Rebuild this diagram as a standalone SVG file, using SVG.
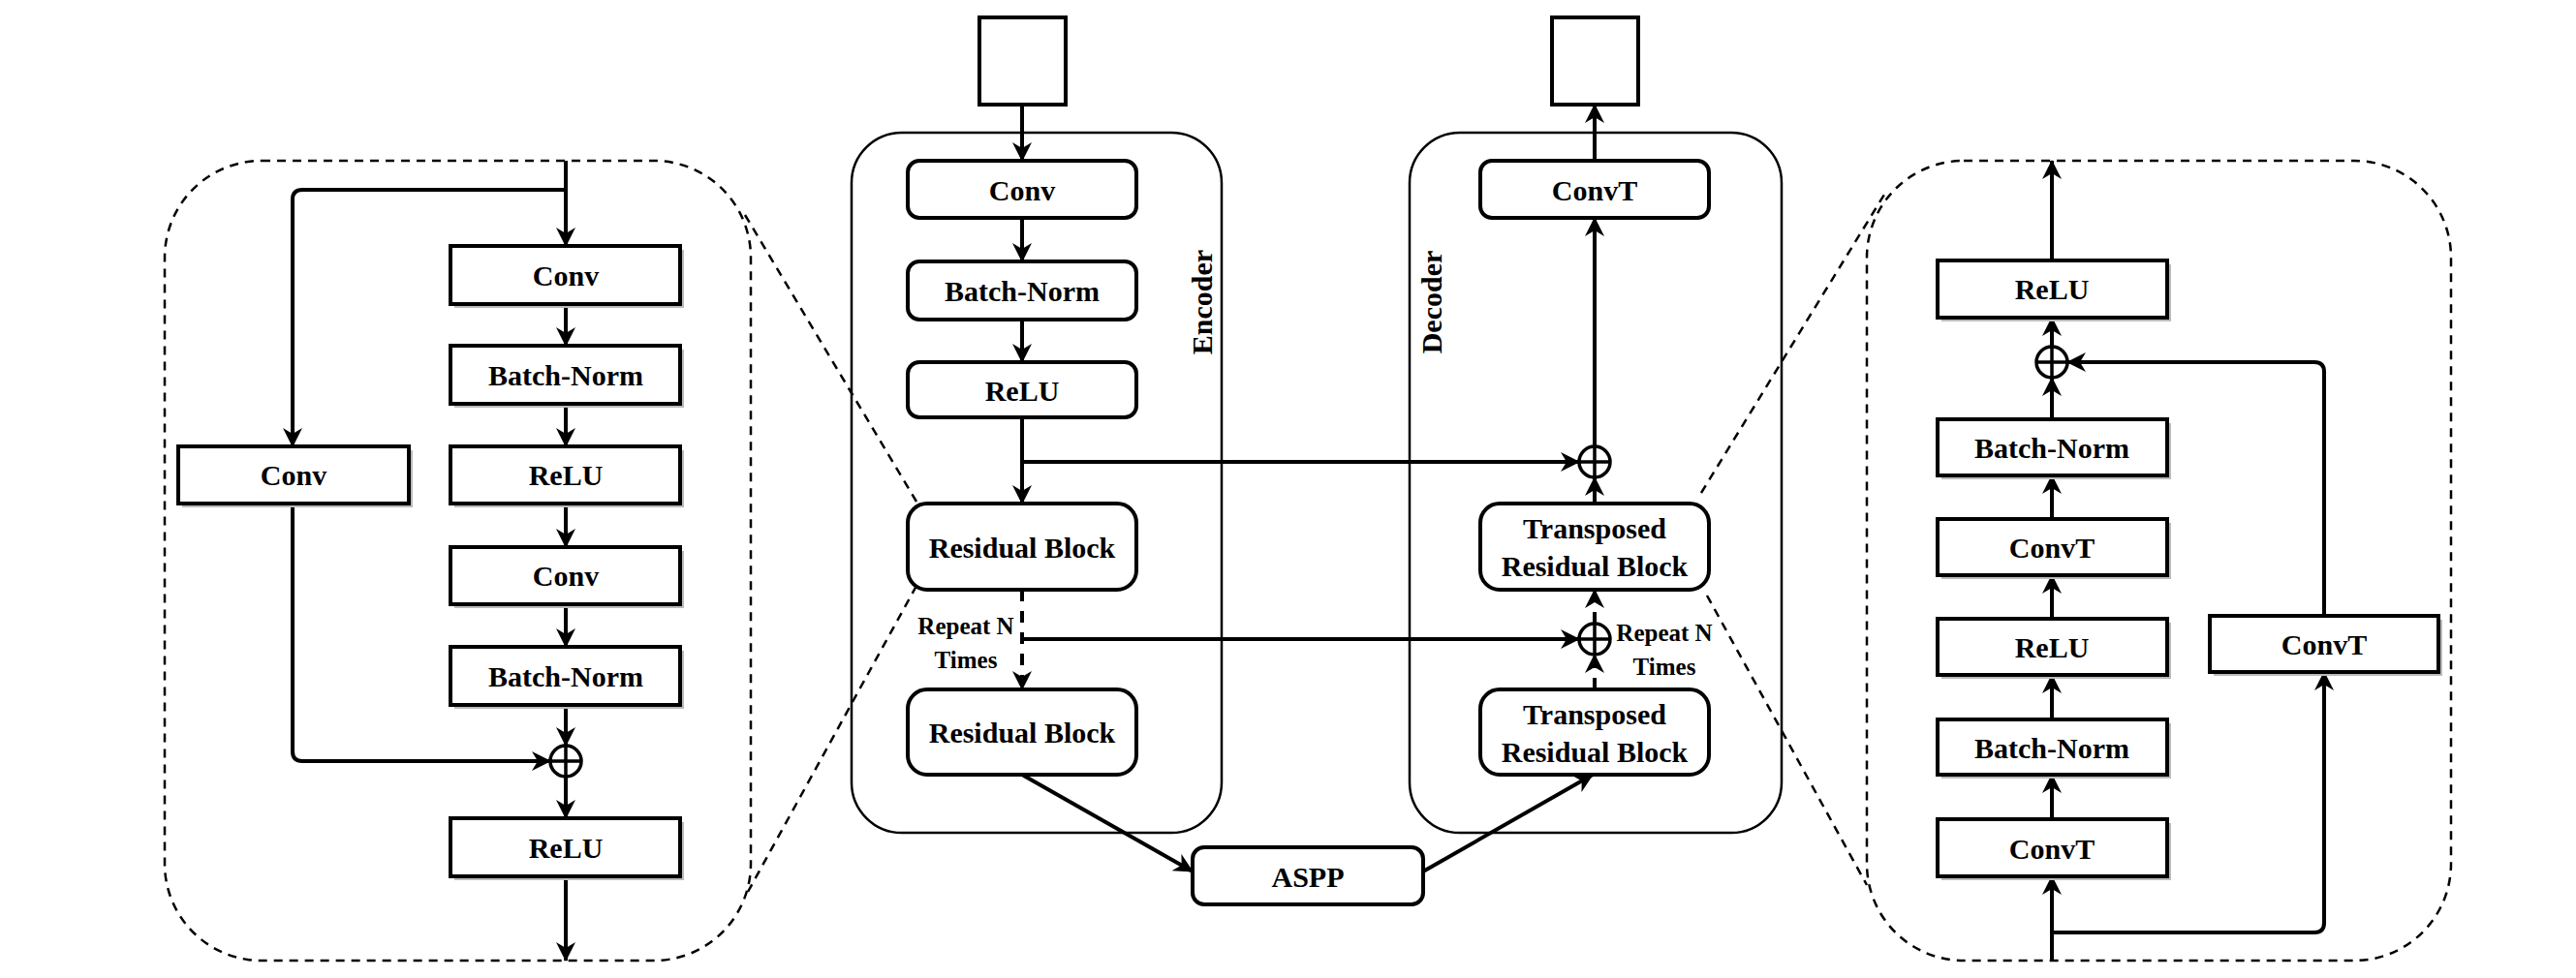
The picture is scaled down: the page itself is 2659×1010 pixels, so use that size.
<svg xmlns="http://www.w3.org/2000/svg" width="2659" height="1010" viewBox="0 0 2659 1010">
<defs>
<marker id="ah" viewBox="0 0 10 10" refX="9" refY="5" markerWidth="6" markerHeight="6" markerUnits="userSpaceOnUse" orient="auto"><path d="M0,0 L10,5 L0,10 L3,5 Z" fill="#000"/></marker>
<marker id="a" viewBox="0 0 20 20" refX="19" refY="10" markerWidth="20" markerHeight="20" markerUnits="userSpaceOnUse" orient="auto"><path d="M0,0 L20,10 L0,20 L6,10 Z" fill="#000"/></marker>
</defs>
<style>
text{font-family:"Liberation Serif","Times New Roman",serif;font-weight:bold;fill:#000;text-anchor:middle;dominant-baseline:central}
.t{font-size:30px}
.s{font-size:25px}
.sq{fill:#fff;stroke:#000;stroke-width:4}
.sh{fill:#bbb}
.rb{fill:#fff;stroke:#000;stroke-width:4}
.frame{fill:none;stroke:#000;stroke-width:2.5}
.dash{fill:none;stroke:#000;stroke-width:2.5;stroke-dasharray:9 7}
.ln{fill:none;stroke:#000;stroke-width:4;stroke-linejoin:round}
.dl{fill:none;stroke:#000;stroke-width:4;stroke-dasharray:12 10}
.pl{fill:none;stroke:#000;stroke-width:3.5}
</style>
<rect width="2659" height="1010" fill="#fff"/>

<!-- frames -->
<g id="left-panel-frame"><rect class="dash" x="170" y="166" width="605" height="826" rx="100"/></g>
<g id="right-panel-frame"><rect class="dash" x="1927" y="166" width="603" height="826" rx="100"/></g>
<g id="encoder"><rect class="frame" x="879" y="137" width="382" height="723" rx="52"/><text class="t" transform="translate(1240,312) rotate(-90)">Encoder</text></g>
<g id="decoder"><rect class="frame" x="1455" y="137" width="384" height="723" rx="52"/><text class="t" transform="translate(1477,312) rotate(-90)">Decoder</text></g>

<!-- connectors -->
<g id="connectors">
<line class="dash" x1="769" y1="222" x2="946" y2="518"/>
<line class="dash" x1="946" y1="605" x2="772" y2="921"/>
<line class="dash" x1="1756" y1="509" x2="1948" y2="196"/>
<line class="dash" x1="1762" y1="615" x2="1927" y2="914"/>
<!-- left panel -->
<line class="ln" x1="584" y1="166" x2="584" y2="254" marker-end="url(#a)"/>
<path class="ln" d="M584,196 H312 Q302,196 302,206 V461" marker-end="url(#a)"/>
<line class="ln" x1="584" y1="314" x2="584" y2="357" marker-end="url(#a)"/>
<line class="ln" x1="584" y1="417" x2="584" y2="461" marker-end="url(#a)"/>
<line class="ln" x1="584" y1="520" x2="584" y2="565" marker-end="url(#a)"/>
<line class="ln" x1="584" y1="624" x2="584" y2="668" marker-end="url(#a)"/>
<line class="ln" x1="584" y1="728" x2="584" y2="770" marker-end="url(#a)"/>
<path class="ln" d="M302,520 V776 Q302,786 312,786 H568" marker-end="url(#a)"/>
<line class="ln" x1="584" y1="802" x2="584" y2="845" marker-end="url(#a)"/>
<line class="ln" x1="584" y1="905" x2="584" y2="992" marker-end="url(#a)"/>
<!-- center -->
<line class="ln" x1="1055" y1="108" x2="1055" y2="166" marker-end="url(#a)"/>
<line class="ln" x1="1055" y1="225" x2="1055" y2="270" marker-end="url(#a)"/>
<line class="ln" x1="1055" y1="330" x2="1055" y2="374" marker-end="url(#a)"/>
<line class="ln" x1="1055" y1="431" x2="1055" y2="520" marker-end="url(#a)"/>
<line class="ln" x1="1055" y1="477" x2="1630" y2="477" marker-end="url(#a)"/>
<line class="dl" x1="1055" y1="609" x2="1055" y2="712" marker-end="url(#a)"/>
<line class="ln" x1="1055" y1="660" x2="1630" y2="660" marker-end="url(#a)"/>
<line class="ln" x1="1055" y1="800" x2="1231" y2="900" marker-end="url(#a)"/>
<line class="ln" x1="1469" y1="900" x2="1644" y2="800" marker-end="url(#a)"/>
<line class="dl" x1="1646" y1="712" x2="1646" y2="676" marker-end="url(#a)"/>
<line class="dl" x1="1646" y1="644" x2="1646" y2="609" marker-end="url(#a)"/>
<line class="ln" x1="1646" y1="520" x2="1646" y2="493" marker-end="url(#a)"/>
<line class="ln" x1="1646" y1="461" x2="1646" y2="225" marker-end="url(#a)"/>
<line class="ln" x1="1646" y1="166" x2="1646" y2="108" marker-end="url(#a)"/>
<!-- right panel -->
<line class="ln" x1="2118" y1="992" x2="2118" y2="905" marker-end="url(#a)"/>
<path class="ln" d="M2118,963 H2389 Q2399,963 2399,953 V694" marker-end="url(#a)"/>
<line class="ln" x1="2118" y1="846" x2="2118" y2="800" marker-end="url(#a)"/>
<line class="ln" x1="2118" y1="743" x2="2118" y2="697" marker-end="url(#a)"/>
<line class="ln" x1="2118" y1="639" x2="2118" y2="594" marker-end="url(#a)"/>
<line class="ln" x1="2118" y1="536" x2="2118" y2="491" marker-end="url(#a)"/>
<line class="ln" x1="2118" y1="433" x2="2118" y2="390" marker-end="url(#a)"/>
<path class="ln" d="M2399,636 V384 Q2399,374 2389,374 H2134" marker-end="url(#a)"/>
<line class="ln" x1="2118" y1="358" x2="2118" y2="328" marker-end="url(#a)"/>
<line class="ln" x1="2118" y1="269" x2="2118" y2="166" marker-end="url(#a)"/>
</g>

<!-- plus nodes -->
<g id="plus-left"><circle class="pl" cx="584" cy="786" r="16" fill="#fff"/><path class="pl" d="M568,786H600M584,770V802"/></g>
<g id="plus-dec1"><circle class="pl" cx="1646" cy="477" r="16" fill="#fff"/><path class="pl" d="M1630,477H1662M1646,461V493"/></g>
<g id="plus-dec2"><circle class="pl" cx="1646" cy="660" r="16" fill="#fff"/><path class="pl" d="M1630,660H1662M1646,644V676"/></g>
<g id="plus-right"><circle class="pl" cx="2118" cy="374" r="16" fill="#fff"/><path class="pl" d="M2102,374H2134M2118,358V390"/></g>

<!-- left panel nodes -->
<g id="l-conv1"><rect class="sh" x="469" y="258" width="237" height="60"/><rect class="sq" x="465" y="254" width="237" height="60"/><text class="t" x="584" y="284">Conv</text></g>
<g id="l-bn1"><rect class="sh" x="469" y="361" width="237" height="60"/><rect class="sq" x="465" y="357" width="237" height="60"/><text class="t" x="584" y="387">Batch-Norm</text></g>
<g id="l-relu1"><rect class="sh" x="469" y="465" width="237" height="59"/><rect class="sq" x="465" y="461" width="237" height="59"/><text class="t" x="584" y="490">ReLU</text></g>
<g id="l-conv2"><rect class="sh" x="469" y="569" width="237" height="59"/><rect class="sq" x="465" y="565" width="237" height="59"/><text class="t" x="584" y="594">Conv</text></g>
<g id="l-bn2"><rect class="sh" x="469" y="672" width="237" height="60"/><rect class="sq" x="465" y="668" width="237" height="60"/><text class="t" x="584" y="698">Batch-Norm</text></g>
<g id="l-relu2"><rect class="sh" x="469" y="849" width="237" height="60"/><rect class="sq" x="465" y="845" width="237" height="60"/><text class="t" x="584" y="875">ReLU</text></g>
<g id="l-convskip"><rect class="sh" x="188" y="465" width="238" height="59"/><rect class="sq" x="184" y="461" width="238" height="59"/><text class="t" x="303" y="490">Conv</text></g>

<!-- center nodes -->
<g id="input"><rect class="sq" x="1011" y="18" width="89" height="90"/></g>
<g id="output"><rect class="sq" x="1602" y="18" width="89" height="90"/></g>
<g id="e-conv"><rect class="rb" x="937" y="166" width="236" height="59" rx="12"/><text class="t" x="1055" y="196">Conv</text></g>
<g id="e-bn"><rect class="rb" x="937" y="270" width="236" height="60" rx="12"/><text class="t" x="1055" y="300">Batch-Norm</text></g>
<g id="e-relu"><rect class="rb" x="937" y="374" width="236" height="57" rx="12"/><text class="t" x="1055" y="403">ReLU</text></g>
<g id="e-res1"><rect class="rb" x="937" y="520" width="236" height="89" rx="20"/><text class="t" x="1055" y="565">Residual Block</text></g>
<g id="e-res2"><rect class="rb" x="937" y="712" width="236" height="88" rx="20"/><text class="t" x="1055" y="756">Residual Block</text></g>
<g id="aspp"><rect class="rb" x="1231" y="875" width="238" height="59" rx="12"/><text class="t" x="1350" y="905">ASPP</text></g>
<g id="d-convt"><rect class="rb" x="1528" y="166" width="236" height="59" rx="12"/><text class="t" x="1646" y="196">ConvT</text></g>
<g id="d-trb1"><rect class="rb" x="1528" y="520" width="236" height="89" rx="20"/><text class="t" x="1646" y="545">Transposed</text><text class="t" x="1646" y="584">Residual Block</text></g>
<g id="d-trb2"><rect class="rb" x="1528" y="712" width="236" height="88" rx="20"/><text class="t" x="1646" y="737">Transposed</text><text class="t" x="1646" y="776">Residual Block</text></g>
<g id="repeat-left"><text class="s" x="997" y="646">Repeat N</text><text class="s" x="997" y="681">Times</text></g>
<g id="repeat-right"><text class="s" x="1718" y="653">Repeat N</text><text class="s" x="1718" y="688">Times</text></g>

<!-- right panel nodes -->
<g id="r-relu2"><rect class="sh" x="2004" y="273" width="237" height="59"/><rect class="sq" x="2000" y="269" width="237" height="59"/><text class="t" x="2118" y="298">ReLU</text></g>
<g id="r-bn2"><rect class="sh" x="2004" y="437" width="237" height="58"/><rect class="sq" x="2000" y="433" width="237" height="58"/><text class="t" x="2118" y="462">Batch-Norm</text></g>
<g id="r-convt2"><rect class="sh" x="2004" y="540" width="237" height="58"/><rect class="sq" x="2000" y="536" width="237" height="58"/><text class="t" x="2118" y="565">ConvT</text></g>
<g id="r-relu1"><rect class="sh" x="2004" y="643" width="237" height="58"/><rect class="sq" x="2000" y="639" width="237" height="58"/><text class="t" x="2118" y="668">ReLU</text></g>
<g id="r-bn1"><rect class="sh" x="2004" y="747" width="237" height="57"/><rect class="sq" x="2000" y="743" width="237" height="57"/><text class="t" x="2118" y="772">Batch-Norm</text></g>
<g id="r-convt1"><rect class="sh" x="2004" y="850" width="237" height="59"/><rect class="sq" x="2000" y="846" width="237" height="59"/><text class="t" x="2118" y="876">ConvT</text></g>
<g id="r-convtskip"><rect class="sh" x="2285" y="640" width="236" height="58"/><rect class="sq" x="2281" y="636" width="236" height="58"/><text class="t" x="2399" y="665">ConvT</text></g>
</svg>
